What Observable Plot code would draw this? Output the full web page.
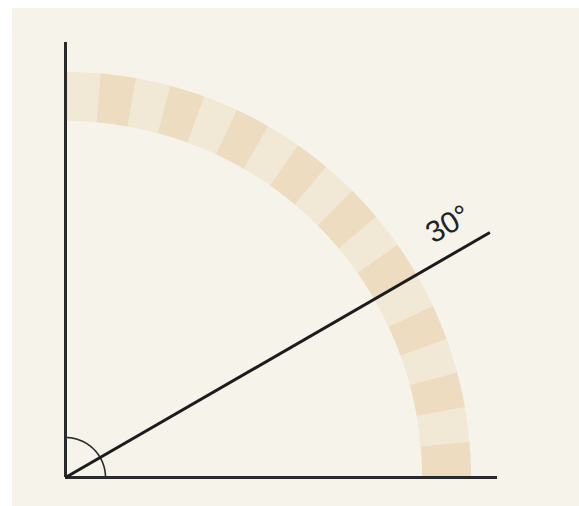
<!DOCTYPE html>
<html>
<head>
<meta charset="utf-8">
<script src="https://cdn.jsdelivr.net/npm/d3@7"></script>
<script src="https://cdn.jsdelivr.net/npm/@observablehq/plot@0.6"></script>
<style>
  html, body { margin: 0; padding: 0; background: #ffffff; }
  #chart { padding: 8px 0 0 12px; }
  svg { display: block; }
</style>
</head>
<body>
<div id="chart"></div>
<script>
// ---- data ----
const segmentStartAngles = [0,5,10,15,20,25,30,35,40,45,50,55,60,65,70,75,80,85]; // degrees
const segmentShades = ["dark","light","dark","light","dark","light","dark","light","dark",
                       "light","dark","light","dark","light","dark","light","dark","light"];
const segmentSpan = 5;            // degrees per segment
const bandRadius = 381;           // mid radius of the band
const rayAngle = 30;              // degrees
const rayLength = 490;
const rayLabel = "30°";
const axisLengths = {x: 432, y: 435};
const angleMarkRadius = 40;

const shadeColors = {dark: "#eddcbf", light: "#f2e8d6"};
const rad = d => d * Math.PI / 180;

// band segments as arc polylines
const bandPts = [];
segmentStartAngles.forEach((a0, i) => {
  const a1 = a0 + segmentSpan + (i < segmentStartAngles.length - 1 ? 0.2 : 0);
  for (let t = a0; t <= a1 + 1e-9; t += 0.25) {
    const tt = Math.min(t, a1);
    bandPts.push({seg: i, x: bandRadius * Math.cos(rad(tt)), y: bandRadius * Math.sin(rad(tt)), color: shadeColors[segmentShades[i]]});
  }
  bandPts.push({seg: i, x: bandRadius * Math.cos(rad(a1)), y: bandRadius * Math.sin(rad(a1)), color: shadeColors[segmentShades[i]]});
});

// small angle mark (quarter circle)
const markPts = d3.range(0, 90.01, 1).map(t => ({x: angleMarkRadius * Math.cos(rad(t)), y: angleMarkRadius * Math.sin(rad(t))}));

const ray = [{x1: 0, y1: 0, x2: rayLength * Math.cos(rad(rayAngle)), y2: rayLength * Math.sin(rad(rayAngle))}];

// label position: along ray, offset perpendicular
const labelDist = 458, labelOff = 28;
const label = [{
  x: labelDist * Math.cos(rad(rayAngle)) - labelOff * Math.sin(rad(rayAngle)),
  y: labelDist * Math.sin(rad(rayAngle)) + labelOff * Math.cos(rad(rayAngle)),
  text: rayLabel
}];

const chart = Plot.plot({
  width: 567,
  height: 498,
  margin: 0,
  x: {domain: [-53, 514], axis: null},
  y: {domain: [-29, 469], axis: null},
  style: {background: "#f6f3eb"},
  marks: [
    Plot.line(bandPts, {x: "x", y: "y", z: "seg", stroke: "color", strokeWidth: 49, strokeLinecap: "butt", strokeLinejoin: "miter"}),
    Plot.line(markPts, {x: "x", y: "y", stroke: "#2b2b2b", strokeWidth: 1.6}),
    Plot.ruleX([0], {y1: 0, y2: axisLengths.y, stroke: "#2a2a2a", strokeWidth: 3}),
    Plot.ruleY([0], {x1: 0, x2: axisLengths.x, stroke: "#2a2a2a", strokeWidth: 3}),
    Plot.link(ray, {x1: "x1", y1: "y1", x2: "x2", y2: "y2", stroke: "#1c1c1c", strokeWidth: 3}),
    Plot.text(label, {x: "x", y: "y", text: "text", rotate: -rayAngle, fontSize: 30, fontFamily: "Liberation Sans, Arial, sans-serif", fill: "#222", textAnchor: "middle"})
  ]
});
document.getElementById("chart").appendChild(chart);
</script>
</body>
</html>
